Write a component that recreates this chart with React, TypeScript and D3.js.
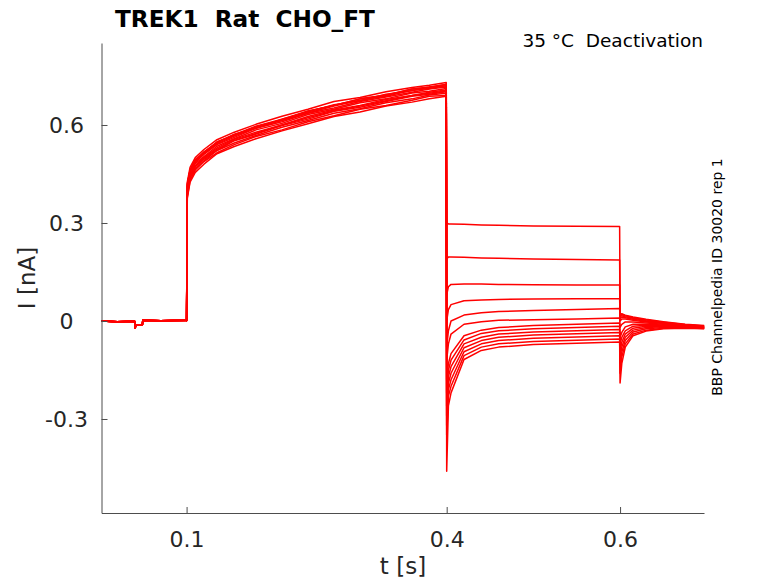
import React, { useEffect, useRef } from "react";
import * as d3 from "d3";

// sweep times (s), shared by all traces
const baseTimes = [0.002, 0.02, 0.04, 0.0405, 0.042, 0.049, 0.0495, 0.07, 0.0995];
const baseValues = [0.0, -0.002, -0.001, -0.021, -0.012, -0.011, 0.002, 0.001, 0.002];

const pulseTimes = [0.1, 0.1008, 0.104, 0.11, 0.12, 0.135, 0.155, 0.18, 0.21, 0.24, 0.27, 0.3, 0.33, 0.36, 0.38, 0.3995];
const stepTimes = [0.4, 0.402, 0.405, 0.42, 0.44, 0.46, 0.5, 0.55, 0.5995];
const tailTimes = [0.6, 0.602, 0.606, 0.615, 0.63, 0.65, 0.675, 0.697];

// current (nA) per sweep
const pulseValues = [
  [0.003, 0.42, 0.46, 0.49, 0.515, 0.548, 0.568, 0.595, 0.615, 0.642, 0.66, 0.68, 0.69, 0.71, 0.715, 0.725],
  [0.001, 0.39, 0.44, 0.472, 0.495, 0.522, 0.552, 0.572, 0.598, 0.618, 0.642, 0.654, 0.672, 0.688, 0.694, 0.702],
  [0.002, 0.41, 0.455, 0.486, 0.51, 0.54, 0.562, 0.59, 0.61, 0.636, 0.652, 0.672, 0.686, 0.7, 0.71, 0.716],
  [0.0, 0.38, 0.43, 0.462, 0.488, 0.515, 0.54, 0.565, 0.585, 0.61, 0.628, 0.648, 0.66, 0.676, 0.688, 0.69],
  [0.002, 0.415, 0.462, 0.49, 0.518, 0.545, 0.572, 0.59, 0.618, 0.64, 0.662, 0.674, 0.694, 0.705, 0.716, 0.72],
  [0.001, 0.4, 0.448, 0.482, 0.503, 0.535, 0.558, 0.585, 0.605, 0.632, 0.648, 0.668, 0.68, 0.698, 0.703, 0.712],
  [0.002, 0.385, 0.437, 0.466, 0.49, 0.522, 0.545, 0.568, 0.593, 0.614, 0.636, 0.65, 0.668, 0.68, 0.692, 0.697],
  [0.003, 0.425, 0.47, 0.5, 0.525, 0.555, 0.578, 0.602, 0.627, 0.648, 0.672, 0.684, 0.702, 0.715, 0.722, 0.73],
  [0.001, 0.395, 0.445, 0.476, 0.5, 0.53, 0.556, 0.578, 0.6, 0.626, 0.646, 0.66, 0.678, 0.69, 0.7, 0.707],
  [0.002, 0.41, 0.458, 0.487, 0.513, 0.542, 0.566, 0.592, 0.614, 0.637, 0.658, 0.676, 0.688, 0.706, 0.712, 0.72],
  [0.0, 0.375, 0.425, 0.455, 0.48, 0.512, 0.534, 0.558, 0.582, 0.604, 0.626, 0.64, 0.658, 0.67, 0.68, 0.688],
  [0.003, 0.418, 0.462, 0.494, 0.516, 0.548, 0.57, 0.596, 0.618, 0.643, 0.66, 0.68, 0.692, 0.71, 0.716, 0.724],
  [0.001, 0.392, 0.442, 0.472, 0.498, 0.526, 0.553, 0.574, 0.6, 0.622, 0.643, 0.658, 0.674, 0.69, 0.697, 0.704],
];

const stepValues = [
  [0.3, 0.297, 0.297, 0.296, 0.294, 0.293, 0.291, 0.29, 0.289],
  [0.19, 0.196, 0.196, 0.195, 0.193, 0.192, 0.19, 0.188, 0.187],
  [0.08, 0.105, 0.112, 0.113, 0.113, 0.112, 0.111, 0.11, 0.11],
  [0.0, 0.035, 0.05, 0.062, 0.064, 0.066, 0.067, 0.068, 0.068],
  [-0.08, -0.03, 0.0, 0.018, 0.025, 0.029, 0.032, 0.035, 0.038],
  [-0.12, -0.07, -0.04, -0.01, -0.002, 0.002, 0.004, 0.006, 0.009],
  [-0.18, -0.13, -0.1, -0.045, -0.028, -0.02, -0.014, -0.01, -0.006],
  [-0.22, -0.15, -0.12, -0.058, -0.038, -0.03, -0.024, -0.02, -0.016],
  [-0.26, -0.17, -0.14, -0.07, -0.05, -0.04, -0.034, -0.03, -0.026],
  [-0.29, -0.19, -0.16, -0.082, -0.06, -0.05, -0.043, -0.039, -0.035],
  [-0.32, -0.21, -0.18, -0.094, -0.07, -0.06, -0.053, -0.049, -0.045],
  [-0.35, -0.23, -0.2, -0.106, -0.08, -0.07, -0.063, -0.059, -0.055],
  [-0.46, -0.26, -0.22, -0.118, -0.09, -0.08, -0.072, -0.068, -0.064],
];

const tailValues = [
  [0.02, 0.022, 0.018, 0.012, 0.005, -0.002, -0.01, -0.014],
  [0.018, 0.02, 0.016, 0.01, 0.003, -0.004, -0.011, -0.015],
  [0.014, 0.016, 0.013, 0.008, 0.001, -0.005, -0.012, -0.016],
  [0.008, 0.012, 0.01, 0.005, -0.001, -0.006, -0.013, -0.017],
  [0.0, 0.006, 0.006, 0.002, -0.003, -0.008, -0.014, -0.018],
  [-0.02, -0.01, -0.003, -0.003, -0.006, -0.01, -0.015, -0.019],
  [-0.05, -0.035, -0.018, -0.01, -0.01, -0.012, -0.016, -0.02],
  [-0.07, -0.05, -0.03, -0.016, -0.013, -0.014, -0.017, -0.021],
  [-0.09, -0.065, -0.04, -0.022, -0.016, -0.016, -0.018, -0.021],
  [-0.11, -0.08, -0.05, -0.028, -0.02, -0.018, -0.019, -0.022],
  [-0.13, -0.095, -0.06, -0.034, -0.024, -0.02, -0.02, -0.022],
  [-0.16, -0.11, -0.07, -0.04, -0.028, -0.022, -0.021, -0.023],
  [-0.19, -0.13, -0.08, -0.045, -0.031, -0.024, -0.022, -0.024],
];

const xTicks = [0.1, 0.4, 0.6];
const yTicks = [-0.3, 0, 0.3, 0.6];

const title = "TREK1  Rat  CHO_FT";
const condition = "35 °C  Deactivation";
const sideNote = "BBP Channelpedia ID 30020 rep 1";

export default function App() {
  const svgRef = useRef<SVGSVGElement>(null);

  useEffect(() => {
    if (!svgRef.current) return;
    const svg = d3.select(svgRef.current);
    svg.selectAll("*").remove();

    const width = 778;
    const height = 583;
    const margin = { top: 43, right: 74, bottom: 70, left: 101.5 };
    const font = "DejaVu Sans, sans-serif";

    const x = d3.scaleLinear().domain([0.00185, 0.6968]).range([margin.left, width - margin.right]);
    const y = d3.scaleLinear().domain([-0.5878, 0.851]).range([height - margin.bottom, margin.top]);

    const times = [...baseTimes, ...pulseTimes, ...stepTimes, ...tailTimes];
    const sweeps = pulseValues.map((p, i) => {
      const vals = [...baseValues, ...p, ...stepValues[i], ...tailValues[i]];
      return times.map((t, j) => [t, vals[j]] as [number, number]);
    });

    const line = d3
      .line<[number, number]>()
      .x((d) => x(d[0]))
      .y((d) => y(d[1]));

    svg
      .append("g")
      .selectAll("path")
      .data(sweeps)
      .enter()
      .append("path")
      .attr("d", line)
      .attr("fill", "none")
      .attr("stroke", "#ff0000")
      .attr("stroke-width", 1.5)
      .attr("stroke-linejoin", "round");

    // Axes
    const xAxis = svg
      .append("g")
      .attr("transform", `translate(0,${height - margin.bottom})`)
      .call(
        d3
          .axisBottom(x)
          .tickValues(xTicks)
          .tickSizeInner(-6)
          .tickSizeOuter(0)
          .tickFormat(d3.format(".1f"))
      );
    xAxis.select(".domain").attr("stroke", "#4d4d4d");
    xAxis.selectAll(".tick line").attr("stroke", "#4d4d4d");
    xAxis
      .selectAll(".tick text")
      .attr("y", 18)
      .attr("dy", "0.71em")
      .attr("fill", "#262626")
      .attr("font-family", font)
      .attr("font-size", 22);

    const yAxis = svg
      .append("g")
      .attr("transform", `translate(${margin.left},0)`)
      .call(
        d3
          .axisLeft(y)
          .tickValues(yTicks)
          .tickSizeInner(-6)
          .tickSizeOuter(0)
          .tickFormat((d) => (d === 0 ? "0" : d3.format(".1f")(d as number).replace("−", "-")))
      );
    yAxis.select(".domain").attr("stroke", "#4d4d4d");
    yAxis.selectAll(".tick line").attr("stroke", "#4d4d4d");
    yAxis
      .selectAll(".tick text")
      .attr("x", -35)
      .attr("text-anchor", "middle")
      .attr("fill", "#262626")
      .attr("font-family", font)
      .attr("font-size", 22);

    // Labels
    svg
      .append("text")
      .attr("x", 403)
      .attr("y", 574)
      .attr("text-anchor", "middle")
      .attr("fill", "#262626")
      .attr("font-family", font)
      .attr("font-size", 23)
      .text("t [s]");

    svg
      .append("text")
      .attr("transform", "translate(35,278) rotate(-90)")
      .attr("text-anchor", "middle")
      .attr("fill", "#262626")
      .attr("font-family", font)
      .attr("font-size", 23)
      .text("I [nA]");

    svg
      .append("text")
      .attr("x", 115)
      .attr("y", 27)
      .attr("font-family", font)
      .attr("font-weight", "bold")
      .attr("font-size", 23.2)
      .attr("fill", "#000")
      .style("white-space", "pre")
      .text(title);

    svg
      .append("text")
      .attr("x", 703)
      .attr("y", 47)
      .attr("text-anchor", "end")
      .attr("font-family", font)
      .attr("font-size", 18.5)
      .attr("fill", "#000")
      .style("white-space", "pre")
      .text(condition);

    svg
      .append("text")
      .attr("transform", "translate(722,277) rotate(-90)")
      .attr("text-anchor", "middle")
      .attr("font-family", font)
      .attr("font-size", 14)
      .attr("fill", "#000")
      .text(sideNote);
  }, []);

  return (
    <svg
      ref={svgRef}
      width={778}
      height={583}
      viewBox="0 0 778 583"
      style={{ position: "absolute", left: 0, top: 0, background: "#fff" }}
    />
  );
}
